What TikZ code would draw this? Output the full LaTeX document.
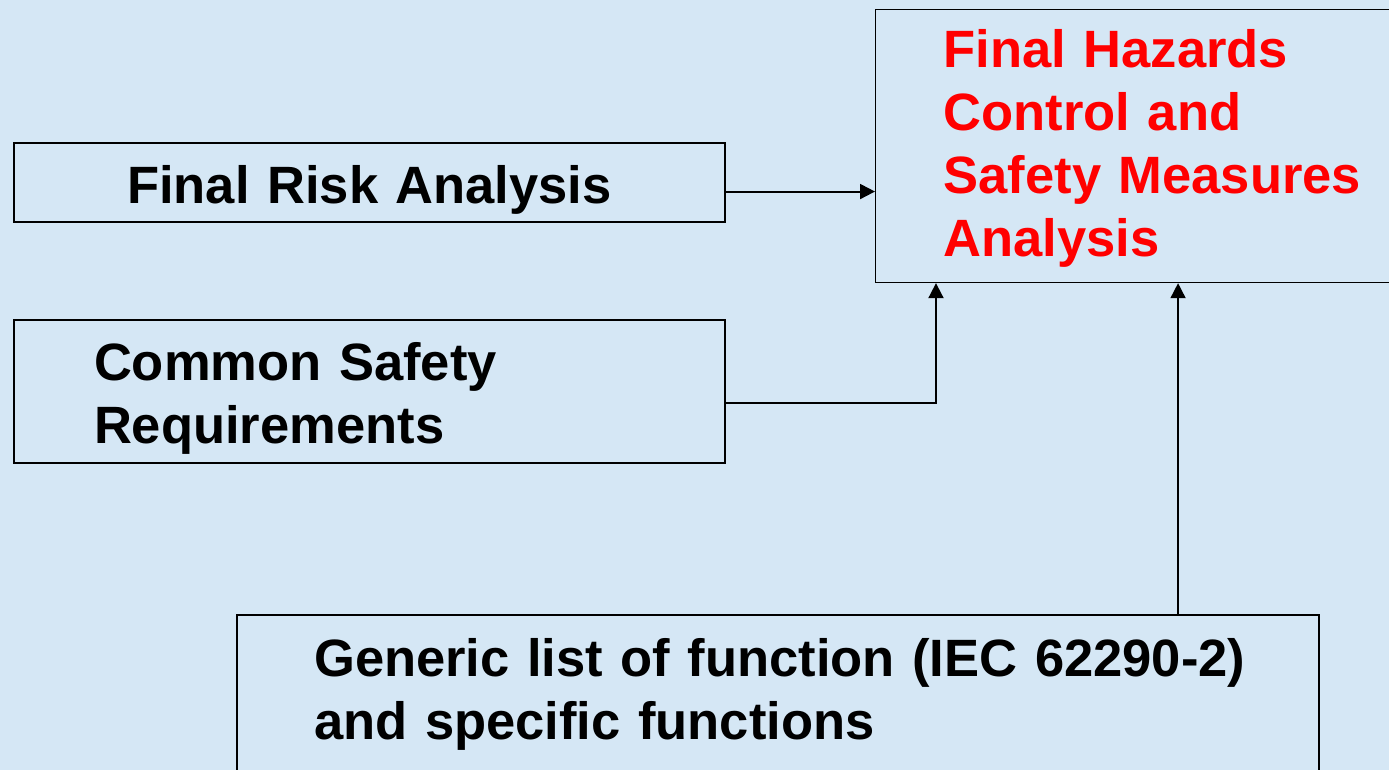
\documentclass[tikz,border=0pt]{standalone}
\usepackage{fontspec}
\setmainfont{Liberation Sans}
\usetikzlibrary{arrows.meta,positioning,calc}
\definecolor{bgblue}{RGB}{213,231,245}
\definecolor{hazred}{RGB}{255,0,0}

\begin{document}
\begin{tikzpicture}[x=0.02cm,y=-0.02cm,
  box/.style={draw,rectangle,anchor=north west,inner ysep=0pt,align=left,
    font=\bfseries\fontsize{29.9}{35.9}\selectfont},
  conn/.style={line width=1.1pt,-{Triangle[length=0.3cm,width=0.3cm]}}]
 \path[use as bounding box,fill=bgblue] (0,0) rectangle (1389,770);
 \node[box,line width=1.2pt,align=center,inner xsep=0pt,text width=14.22cm,
   text height=1.214cm,text depth=0.366cm] (risk) at (13,142) {Final Risk Analysis};
 \node[box,line width=1.2pt,inner xsep=1.6cm,text width=11.02cm,
   text height=1.2cm,text depth=1.66cm] (common) at (13,319) {Common Safety\\Requirements};
 \node[box,line width=0.7pt,text=hazred,inner xsep=1.36cm,text width=9.38cm,
   text height=1.16cm,text depth=4.3cm] (hazard) at (875,9)
   {Final Hazards\\Control and\\Safety Measures\\Analysis};
 \node[box,line width=1.3pt,inner xsep=1.54cm,text width=18.56cm,
   text height=1.22cm,text depth=2.5cm] (generic) at (236,614)
   {\mbox{Generic list of function (IEC 62290-2)}\\\mbox{and specific functions}};
 % connectors
 \draw[conn] ([yshift=-0.18cm]risk.east) -- ([yshift=-0.18cm]hazard.west |- risk.east);
 \draw[conn] ([yshift=-0.23cm]common.east) -| ([xshift=1.22cm]hazard.south west);
 \draw[conn,line width=0.9pt] (hazard.south |- generic.north) -- (hazard.south);
\end{tikzpicture}
\end{document}
